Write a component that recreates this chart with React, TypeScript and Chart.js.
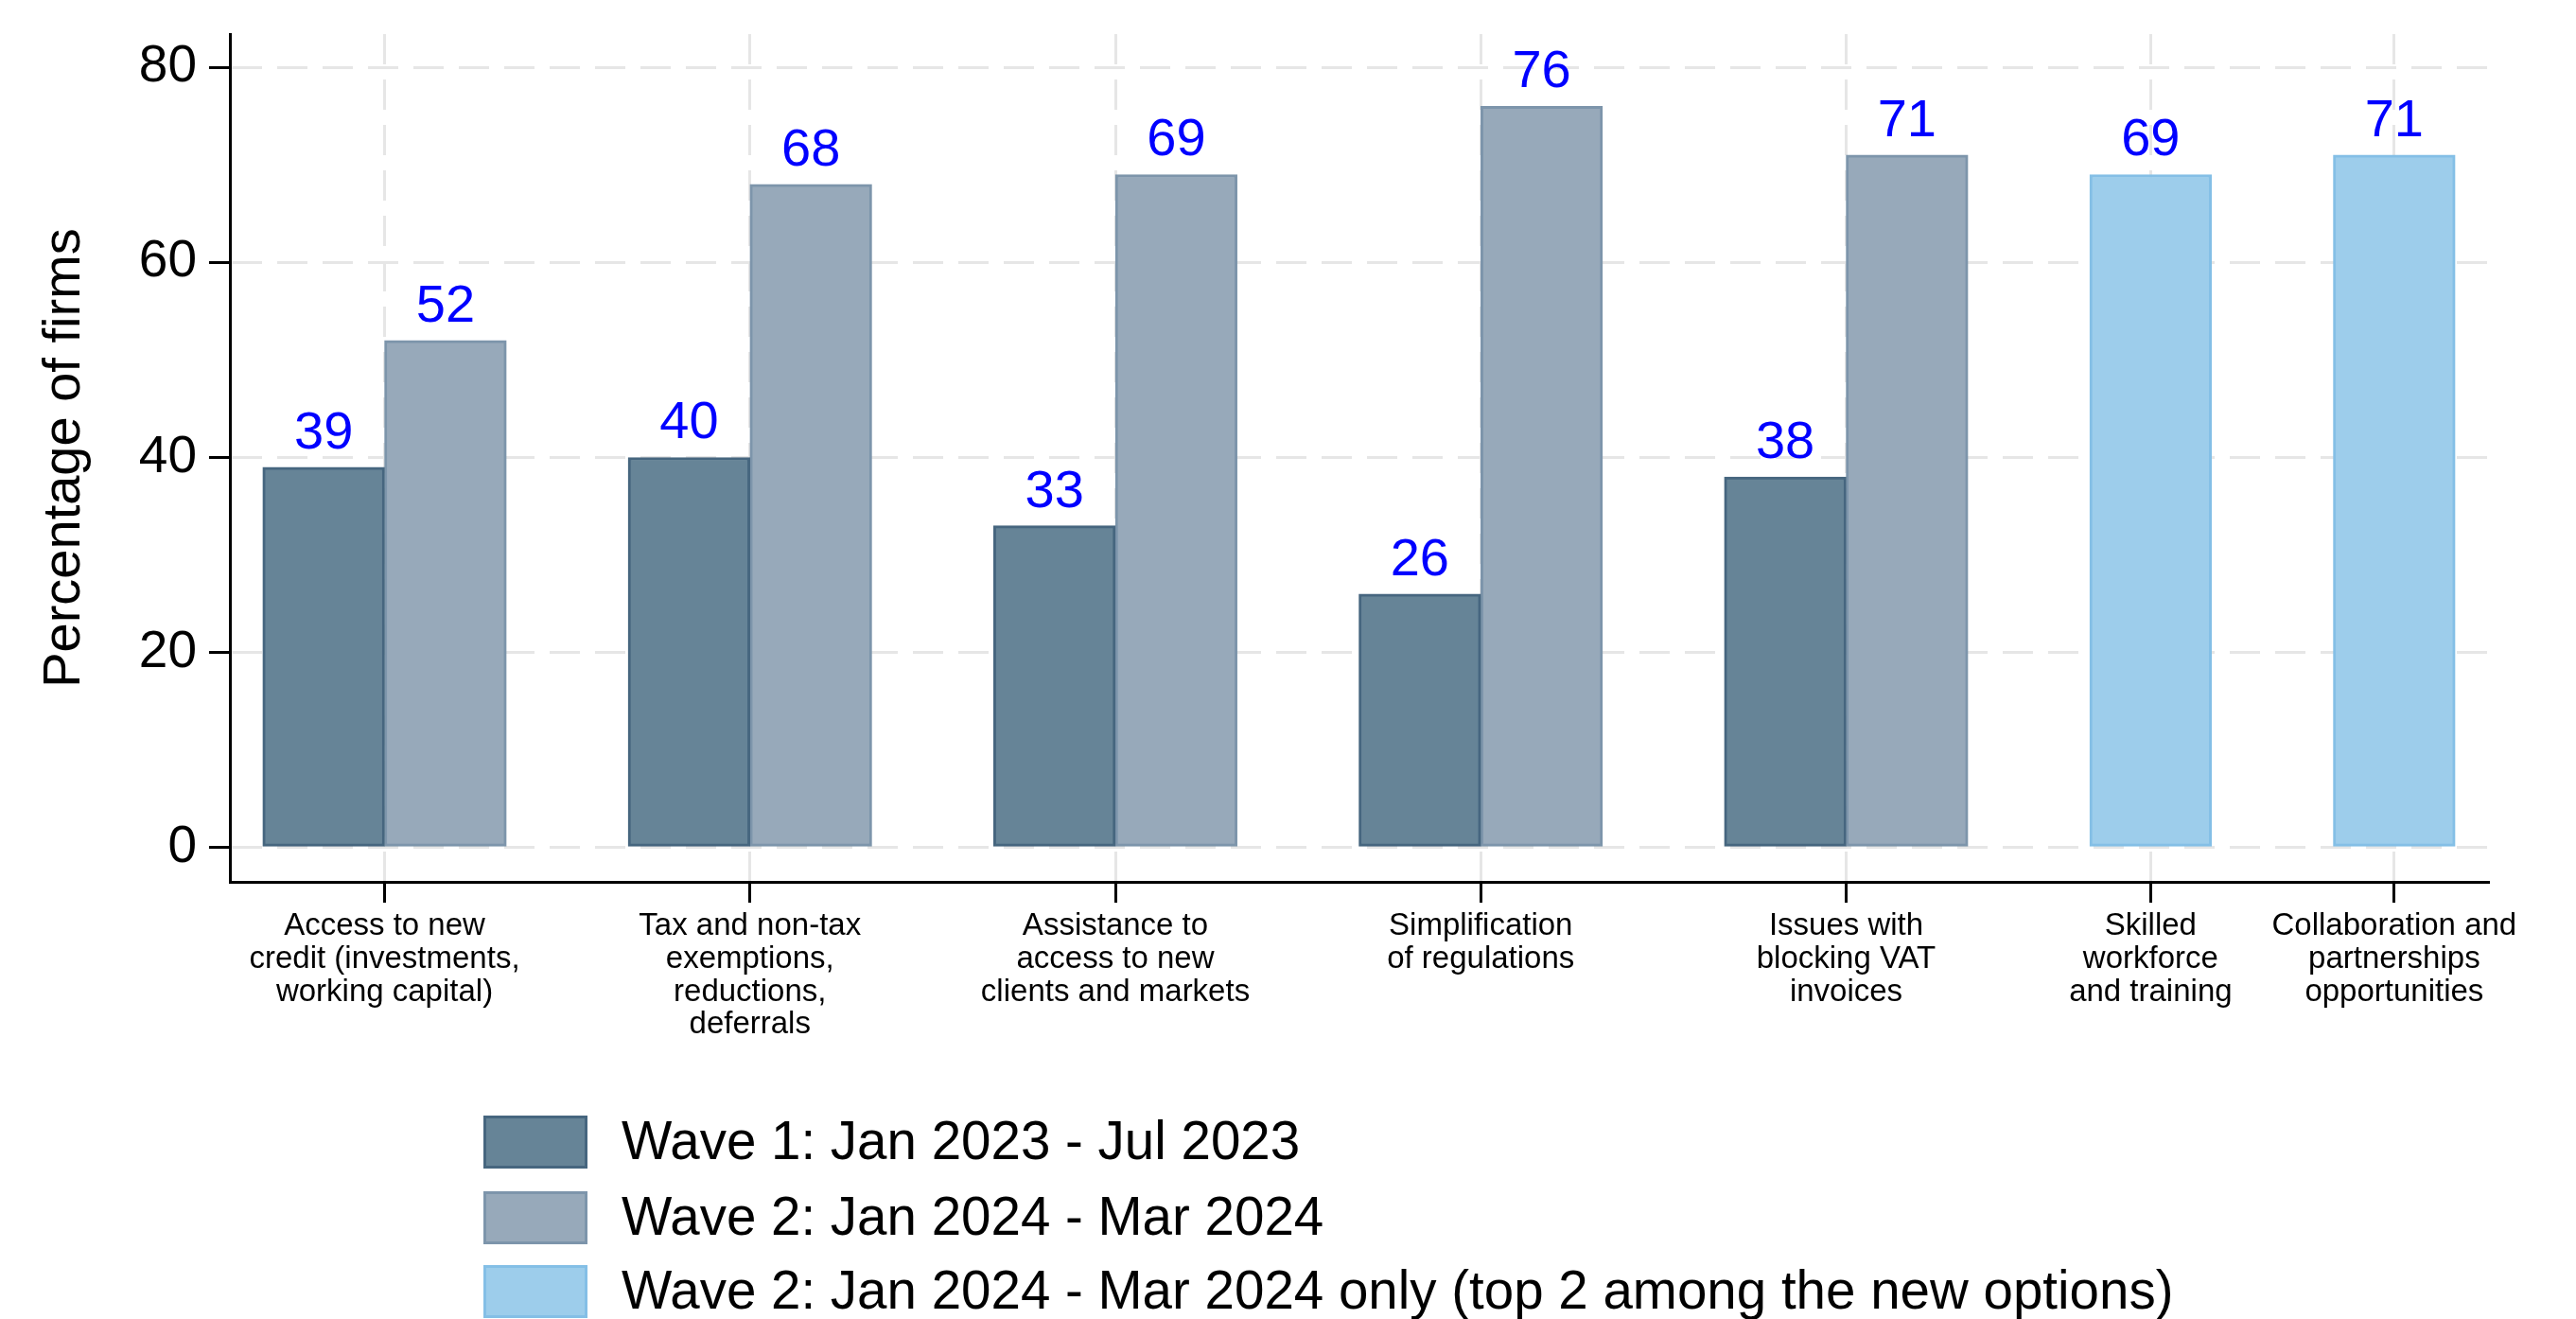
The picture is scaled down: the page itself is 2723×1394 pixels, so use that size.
import React, { useEffect, useRef } from "react";
import { Chart, registerables } from "chart.js";

Chart.register(...registerables);

// ---------- data ----------
const categories: string[][] = [
  ["Access to new", "credit (investments,", "working capital)"],
  ["Tax and non-tax", "exemptions,", "reductions,", "deferrals"],
  ["Assistance to", "access to new", "clients and markets"],
  ["Simplification", "of regulations"],
  ["Issues with", "blocking VAT", "invoices"],
  ["Skilled", "workforce", "and training"],
  ["Collaboration and", "partnerships", "opportunities"],
];
const wave1: (number | null)[] = [39, 40, 33, 26, 38, null, null];
const wave2: (number | null)[] = [52, 68, 69, 76, 71, null, null];
const wave2Only: (number | null)[] = [null, null, null, null, null, 69, 71];
const seriesLabels = [
  "Wave 1: Jan 2023 - Jul 2023",
  "Wave 2: Jan 2024 - Mar 2024",
  "Wave 2: Jan 2024 - Mar 2024 only (top 2 among the new options)",
];
const yTicks = [0, 20, 40, 60, 80];

// ---------- styles ----------
const FONT = '"Liberation Sans", Arial, Helvetica, sans-serif';
const fills = ["#668497", "#97a9ba", "#9dcdeb"];
const borders = ["#46667f", "#7d95ab", "#84bfe6"];
const GRID = "#e6e6e6";

// slot layout: each category takes one slot per present bar, plus one empty slot between groups
const series = [wave1, wave2, wave2Only];
function buildLayout() {
  const points = series.map(() => [] as { x: number; y: number }[]);
  const centers: number[] = [];
  let cursor = 0;
  categories.forEach((_, i) => {
    const present = series.map((_s, k) => k).filter((k) => series[k][i] != null);
    present.forEach((k, j) => points[k].push({ x: cursor + j + 0.5, y: series[k][i] as number }));
    centers.push(cursor + present.length / 2);
    cursor += present.length + 1;
  });
  return { points, centers, span: cursor - 1 };
}

const valueLabels = {
  id: "valueLabels",
  afterDatasetsDraw(chart: any) {
    const ctx = chart.ctx;
    ctx.save();
    ctx.font = `56px ${FONT}`;
    ctx.fillStyle = "#0000ff";
    ctx.textAlign = "center";
    ctx.textBaseline = "alphabetic";
    chart.data.datasets.forEach((ds: any, di: number) => {
      const meta = chart.getDatasetMeta(di);
      meta.data.forEach((el: any, i: number) => {
        const v = ds.data[i].y;
        ctx.fillText(String(v), el.x, el.y - 20);
      });
    });
    ctx.restore();
  },
};

const columnLegend = {
  id: "columnLegend",
  afterDraw(chart: any) {
    const ctx = chart.ctx;
    const base = chart.chartArea.bottom;
    const rowOffsets = [275, 355, 433];
    const boxX = 511;
    const boxW = 110;
    const boxH = 56;
    const textX = 657;
    ctx.save();
    ctx.font = `56.5px ${FONT}`;
    ctx.textAlign = "left";
    ctx.textBaseline = "middle";
    chart.data.datasets.forEach((ds: any, i: number) => {
      const cy = base + rowOffsets[i];
      ctx.fillStyle = ds.backgroundColor;
      ctx.fillRect(boxX, cy - boxH / 2, boxW, boxH);
      ctx.lineWidth = 3;
      ctx.strokeStyle = ds.borderColor;
      ctx.strokeRect(boxX + 1.5, cy - boxH / 2 + 1.5, boxW - 3, boxH - 3);
      ctx.fillStyle = "#000000";
      ctx.fillText(ds.label, textX, cy + 2);
    });
    ctx.restore();
  },
};

export default function App() {
  const canvasRef = useRef<HTMLCanvasElement | null>(null);

  useEffect(() => {
    if (!canvasRef.current) return;
    const { points, centers, span } = buildLayout();
    const chart = new Chart(canvasRef.current, {
      type: "bar",
      data: {
        datasets: seriesLabels.map((label, k) => ({
          label,
          data: points[k],
          backgroundColor: fills[k],
          borderColor: borders[k],
          borderWidth: 3,
          borderSkipped: false,
          stack: "all",
          categoryPercentage: 1,
          barPercentage: 1,
        })),
      },
      options: {
        animation: false,
        responsive: true,
        maintainAspectRatio: false,
        layout: { padding: { top: 36, right: 93, left: 0, bottom: 262 } },
        plugins: {
          legend: { display: false },
          tooltip: { enabled: false },
        },
        scales: {
          x: {
            type: "linear",
            min: -0.27,
            max: span + 0.27,
            offset: false,
            grid: {
              offset: false,
              color: GRID,
              lineWidth: 3,
              drawTicks: true,
              tickLength: 22,
              tickColor: "#000000",
              tickWidth: 3,
              tickBorderDash: [],
            },
            border: { display: true, color: "#000000", width: 3, dash: [32, 16] },
            afterBuildTicks: (scale: any) => {
              scale.ticks = centers.map((v) => ({ value: v }));
            },
            afterFit: (scale: any) => {
              scale.height = 200;
              scale.paddingLeft = 0;
              scale.paddingRight = 0;
            },
            ticks: {
              autoSkip: false,
              maxRotation: 0,
              minRotation: 0,
              padding: 8,
              color: "#000000",
              font: { family: FONT, size: 33, lineHeight: 1.05 },
              callback: (_v: any, index: number) => categories[index],
            },
          },
          y: {
            type: "linear",
            min: -3.5,
            max: 83.4,
            stacked: false,
            grid: {
              color: GRID,
              lineWidth: 3,
              drawTicks: true,
              tickLength: 22,
              tickColor: "#000000",
              tickWidth: 3,
              tickBorderDash: [],
            },
            border: { display: true, color: "#000000", width: 3, dash: [32, 16] },
            afterBuildTicks: (scale: any) => {
              scale.ticks = yTicks.map((v) => ({ value: v }));
            },
            afterFit: (scale: any) => {
              scale.width = 243;
              scale.paddingTop = 0;
              scale.paddingBottom = 0;
            },
            ticks: {
              padding: 13,
              color: "#000000",
              font: { family: FONT, size: 55 },
              callback: (v: any) => String(v),
            },
            title: {
              display: true,
              text: "Percentage of firms",
              color: "#000000",
              font: { family: FONT, size: 56, lineHeight: 1.2 },
              padding: { top: 35, bottom: 0 },
            },
          },
        },
      } as any,
      plugins: [valueLabels, columnLegend],
    });
    return () => chart.destroy();
  }, []);

  return (
    <div style={{ position: "fixed", left: 0, top: 0, width: 2723, height: 1394, background: "#ffffff" }}>
      <canvas ref={canvasRef} />
    </div>
  );
}
